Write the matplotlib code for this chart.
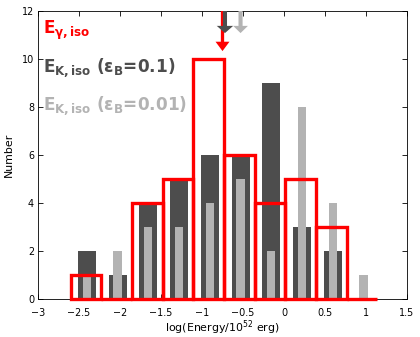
import matplotlib
matplotlib.use("Agg")
import matplotlib.pyplot as plt

# ---- data ----
bin_edges = [-2.60, -2.226, -1.852, -1.478, -1.104, -0.730, -0.356, 0.018, 0.392, 0.766, 1.140]
gamma_counts = [1, 0, 4, 5, 10, 6, 4, 5, 3, 0]

bar_centers = [-2.405, -2.03, -1.655, -1.28, -0.905, -0.53, -0.155, 0.22, 0.595, 0.97]
k01_counts = [2, 1, 4, 5, 6, 6, 9, 3, 2, 0]
k001_counts = [1, 2, 3, 3, 4, 5, 2, 8, 4, 1]

arrow_x = [-0.75, -0.72, -0.53]          # gamma, eps=0.1, eps=0.01
arrow_tip = [10.33, 11.08, 11.08]

xticks = [-3, -2.5, -2, -1.5, -1, -0.5, 0, 0.5, 1, 1.5]
xticklabels = ["\u22123", "\u22122.5", "\u22122", "\u22121.5", "\u22121", "\u22120.5", "0", "0.5", "1", "1.5"]
yticks = [0, 2, 4, 6, 8, 10, 12]
yticklabels = ["0", "2", "4", "6", "8", "10", "12"]

RED = "#ff0000"
DARK = "#4d4d4d"
LIGHT = "#b3b3b3"

plt.rcParams["font.family"] = ["DejaVu Sans"]
plt.rcParams["mathtext.fontset"] = "dejavusans"

fig = plt.figure(figsize=(4.2, 3.37), dpi=100)
ax = fig.add_axes([38 / 420, 1 - 299 / 337, 369 / 420, 288 / 337])

# histogram outline for E_gamma (one outlined rectangle per bin)
centers_g = [(bin_edges[i] + bin_edges[i + 1]) / 2 for i in range(len(gamma_counts))]
widths_g = [bin_edges[i + 1] - bin_edges[i] for i in range(len(gamma_counts))]

ax.bar(bar_centers, k01_counts, width=0.22, color=DARK, linewidth=0, zorder=2)
ax.bar(bar_centers, k001_counts, width=0.10, color=LIGHT, linewidth=0, zorder=3)
ax.bar(centers_g, gamma_counts, width=widths_g, fill=False, edgecolor=RED,
       linewidth=2.4, zorder=4, clip_on=False)

# arrows from the top of the axes
arrow_cols = [RED, DARK, LIGHT]
arrow_w = [0.040, 0.050, 0.050]
arrow_hw = [0.17, 0.20, 0.18]
arrow_hl = [0.39, 0.30, 0.30]
for x, tip, c, w, hw, hl, z in zip(arrow_x, arrow_tip, arrow_cols, arrow_w, arrow_hw, arrow_hl, [5, 6, 5]):
    ax.arrow(x, 12.0, 0, tip - 12.0, width=w, head_width=hw, head_length=hl,
             length_includes_head=True, color=c, linewidth=0, zorder=z, clip_on=False)

ax.set_xlim(-3, 1.5)
ax.set_ylim(0, 12)
ax.set_xticks(xticks, xticklabels)
ax.set_yticks(yticks, yticklabels)
ax.tick_params(direction="in", top=True, right=True, length=3.5, width=0.6,
               labelsize=6.9, colors="black")
ax.tick_params(axis="x", pad=6.3)
ax.tick_params(axis="y", pad=2.8)
for s in ax.spines.values():
    s.set_linewidth(0.7)
    s.set_color("#222222")
    s.set_zorder(1)

ax.set_xlabel("log(Energy/10$^{52}$ erg)", fontsize=7.9, va="top")
ax.set_ylabel("Number", fontsize=7.9)
ax.xaxis.set_label_coords(0.5, -0.069)
ax.yaxis.set_label_coords(-0.065, 0.5)

# legend-like labels
ax.text(0.014, 0.92, r"E$_{\mathbf{\gamma,iso}}$", transform=ax.transAxes,
        color=RED, fontsize=12.2, fontweight="bold", va="baseline", ha="left")
ax.text(0.014, 0.787, "E$_{\\mathbf{K,iso}}$ (\u03b5$_{\\mathbf{B}}$=0.1)", transform=ax.transAxes,
        color=DARK, fontsize=12.2, fontweight="bold", va="baseline", ha="left")
ax.text(0.014, 0.656, "E$_{\\mathbf{K,iso}}$ (\u03b5$_{\\mathbf{B}}$=0.01)", transform=ax.transAxes,
        color=LIGHT, fontsize=12.2, fontweight="bold", va="baseline", ha="left")

fig.savefig("out.png", dpi=100)
